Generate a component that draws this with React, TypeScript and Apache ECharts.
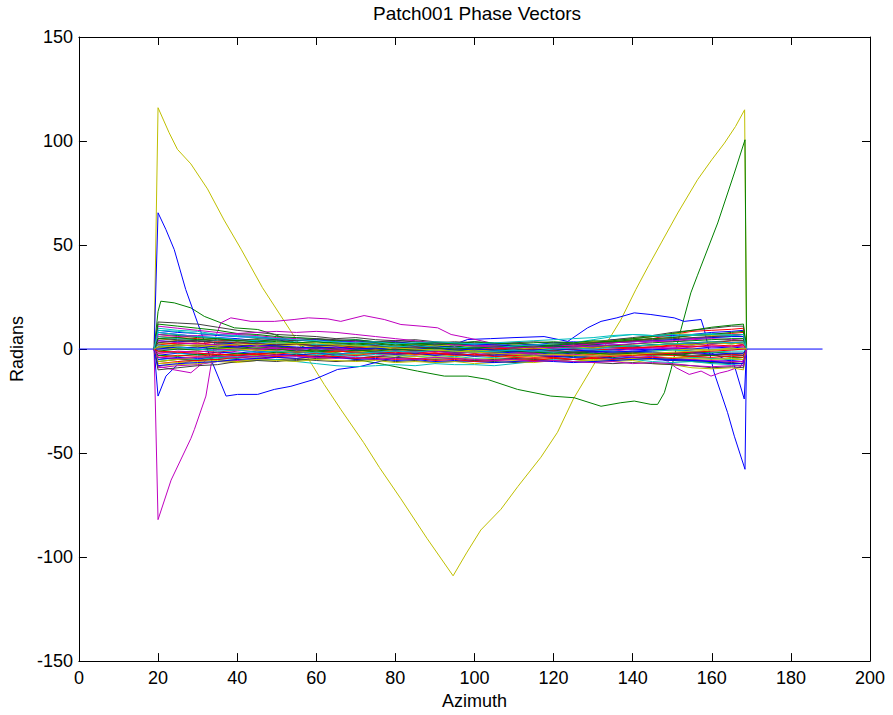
import React, { useEffect, useRef } from "react";
import * as echarts from "echarts";

const TITLE = "Patch001 Phase Vectors";
const X_NAME = "Azimuth";
const Y_NAME = "Radians";
const X_MIN = 0, X_MAX = 200, X_STEP = 20;
const Y_MIN = -150, Y_MAX = 150, Y_STEP = 50;

// MATLAB default colour order: b, g, r, c, m, y, k
const COLOR_ORDER = ["#0000FF", "#008000", "#FF0000", "#00BFBF", "#BF00BF", "#BFBF00", "#404040"];

// zero reference vector
const ZERO_X = [0, 188];
const ZERO_Y = [0, 0];

// every phase vector starts and ends at zero
const START_X = 19;
const END_X = 168.8;

// azimuth samples of the bulk of vectors
const BAND_X = [20, 25, 30, 35, 40, 45, 50, 55, 60, 65, 70, 75, 80, 85, 90, 95, 100, 105, 110, 115, 120, 125, 130, 135, 140, 145, 150, 155, 160, 165, 168];

const BAND_LINES: number[][] = [
  [8, 7, 6, 5.5, 5, 4, 4.5, 3, 3.5, 2.5, 3, 2, 2.5, 1.5, 2, 1, 2, 1.5, 2.5, 2, 3, 3.5, 3, 4.5, 5, 6, 6.5, 7, 8, 8.5, 9],
  [-6, -5, -5.5, -4, -4.5, -3, -3.5, -2.5, -3, -2, -2.5, -1.5, -2, -2.5, -3, -2, -3, -2.5, -3.5, -3, -4, -3.5, -4.5, -4, -5, -4.5, -5.5, -6, -6.5, -7, -7],
  [3, 2.5, 3, 2, 1.5, 2, 1, 0.5, 1, 0, -0.5, 0, -1, -0.5, -1.5, -1, -2, -1, -1.5, -2, -1, -1.5, -0.5, 0, 0.5, 1, 2, 2.5, 3, 4, 4],
  [10, 9, 8.5, 7, 6.5, 6, 5, 5.5, 4.5, 4, 4.5, 3.5, 3, 3.5, 2.5, 3, 2, 2.5, 1.5, 2, 1, 1.5, 2, 3, 3.5, 4, 4.5, 5, 5.5, 6, 6],
  [-9, -8, -7.5, -6, -5.5, -5, -4, -4.5, -3.5, -4, -3, -3.5, -2.5, -3, -2, -2.5, -3, -2, -3, -2.5, -3.5, -3, -4, -3, -3.5, -2.5, -3, -2, -3, -2.5, -3],
  [5, 4, 4.5, 3, 2.5, 3, 1.5, 2, 1, 1.5, 0.5, 1, 0, 0.5, -0.5, 0, -1, -0.5, -1.5, -1, -2, -1.5, -2.5, -2, -3, -3.5, -3, -4, -4.5, -5, -5],
  [13, 12.5, 12, 10.5, 9, 8, 7, 6.5, 6, 5, 5.5, 4.5, 4, 4.5, 3.5, 3, 3.5, 2.5, 3, 2, 2.5, 3, 3.5, 4.5, 5.5, 6.5, 8, 9, 10, 11, 11],
  [-3, -2, -2.5, -1.5, -2, -1, -1.5, -0.5, -1, 0, -0.5, -1, 0, -1, -0.5, -1.5, -1, -2, -1.5, -1, -2, -1.5, -1, -0.5, 0, -0.5, 0.5, 0, 1, 0.5, 1],
  [7, 6.5, 5.5, 5, 4, 4.5, 3.5, 3, 3.5, 2.5, 2, 2.5, 1.5, 2, 1, 1.5, 0.5, 1, 0, 0.5, -0.5, 0, 0.5, 1, 1.5, 2, 2.5, 2, 3, 2.5, 3],
  [-2, -1.5, -1, -1.5, -0.5, 0, -0.5, 0.5, 0, 1, 0.5, 1.5, 1, 0.5, 1, 0.5, 1, 0, 0.5, 1, 1.5, 2, 3, 3.5, 4, 5, 5.5, 6.5, 7, 7.5, 8],
  [-5, -4.5, -5, -4, -3.5, -4, -3, -3.5, -2.5, -3, -3.5, -2.5, -3, -3.5, -4, -3.5, -4.5, -4, -5, -4.5, -5.5, -5, -6, -5.5, -5, -6, -6.5, -6, -7, -7.5, -8],
  [2, 1.5, 2, 1, 0.5, 0, 0.5, -0.5, -1, -0.5, -1.5, -1, -2, -1.5, -2.5, -2, -1.5, -2.5, -2, -1.5, -1, -1.5, -0.5, -1, 0, 0.5, 0, 1, 1.5, 1, 2],
  [-8, -7.5, -7, -6, -6.5, -5.5, -5, -4.5, -5, -4, -4.5, -3.5, -4, -3.5, -4.5, -4, -5, -4.5, -5.5, -5, -4.5, -5, -5.5, -6, -5.5, -7, -7.5, -9, -9.5, -9, -10],
  [-10, -9, -8, -7.5, -6, -5.5, -5, -5.5, -4.5, -4, -4.5, -3.5, -4, -4.5, -5, -4.5, -5.5, -5, -4.5, -5, -5.5, -5, -4.5, -5, -4, -4.5, -5, -5.5, -6, -6.5, -6],
  [4, 3.5, 4, 3, 2.5, 3, 2, 2.5, 1.5, 2, 1, 1.5, 0.5, 1, 1.5, 0.5, 1, 1.5, 1, 2, 1.5, 2.5, 2, 3, 3.5, 4, 4.5, 5, 5.5, 6, 6],
  [1, 0.5, 1, 0, 0.5, -0.5, 0, -1, -0.5, -1, -1.5, -1, -0.5, -1.5, -1, -2, -1.5, -2, -2.5, -2, -1.5, -2, -2.5, -2, -1.5, -2, -2.5, -2, -1.5, -2, -2],
  [6, 5.5, 5, 4, 4.5, 3.5, 3, 2.5, 2, 2.5, 1.5, 1, 1.5, 0.5, 1, 0, -0.5, 0, 0.5, 0, 1, 1.5, 2.5, 3, 4, 5, 7, 8.5, 9, 9.5, 10],
  [-1, -2, -3, -4.5, -5, -5.5, -5, -6, -7, -8, -8.5, -8, -7.5, -8, -7, -7.5, -7.5, -8, -7, -6, -5, -4, -3.5, -3, -4, -4.5, -5, -4, -4.5, -5, -4],
  [11, 10, 9, 8, 7, 6.5, 5.5, 5, 4.5, 4, 3.5, 3, 3.5, 2.5, 2, 2.5, 1.5, 2, 1, 1.5, 2, 1.5, 2.5, 3, 3.5, 4, 3.5, 4.5, 5, 4.5, 5],
  [0, 0.5, 1, 1.5, 1, 2, 1.5, 2.5, 2, 3, 2.5, 3, 2, 2.5, 1.5, 2, 1, 1.5, 2, 1.5, 2.5, 3, 3.5, 4, 5, 6, 7.5, 7, 6.5, 7, 7],
  [-4, -5, -5.5, -5, -6, -5.5, -6, -5, -5.5, -6, -5.5, -5, -6, -5.5, -6.5, -6, -5.5, -6, -6.5, -6, -5.5, -6, -6.5, -7, -6.5, -7, -7.5, -8, -9, -8.5, -9],
  [9, 8, 7.5, 6.5, 6, 5.5, 5, 4, 4.5, 3.5, 4, 3, 3.5, 2.5, 3, 2, 2.5, 2, 1.5, 2, 1.5, 1, 1.5, 2, 1.5, 2, 2.5, 3, 2.5, 3, 3],
  [12, 11, 10, 9, 7.5, 7, 6, 5.5, 5, 4, 4.5, 3.5, 3, 2.5, 2, 2.5, 1.5, 1, 1.5, 1, 2, 2.5, 3, 4, 5, 6, 7.5, 9, 10.5, 11.5, 12],
  [-7, -6, -5.5, -5, -4, -4.5, -3.5, -3, -3.5, -2.5, -3, -2, -2.5, -1.5, -2, -2.5, -3, -3.5, -3, -4, -3.5, -3, -2.5, -3, -2, -2.5, -3, -3.5, -3, -2.5, -3],
  [6, 5, 4.5, 4, 3, 3.5, 2.5, 3, 2, 2.5, 1.5, 2, 1, 1.5, 1, 0.5, 1, 0.5, 1.5, 2, 2.5, 3, 4.5, 6, 7, 6.5, 6, 7, 7.5, 7, 7],
  [-2, -1, -1.5, -0.5, 0, -0.5, 0.5, 0, 1, 0.5, 0, -0.5, 0, -1, -0.5, 0, -1, -0.5, 0, -0.5, 0.5, 0, 0.5, 1, 0.5, 1, 0.5, 1.5, 1, 1.5, 1],
  [3, 2, 1.5, 0.5, 0, -0.5, -1, -1.5, -1, -2, -2.5, -2, -3, -2.5, -3.5, -3, -3.5, -3, -4, -3.5, -3, -2.5, -3, -2, -1.5, -1, -0.5, 0, -0.5, 0.5, 0],
  [1, 2, 1.5, 2.5, 2, 1, 1.5, 0.5, 1, 0, -0.5, 0, -1, -0.5, -1, -1.5, -1, -0.5, -1, 0, 0.5, 0, 1, 1.5, 1, 2, 2.5, 3, 3.5, 4, 4],
  [-5, -4, -4.5, -3.5, -3, -3.5, -2.5, -3, -2, -2.5, -1.5, -2, -2.5, -2, -3, -2.5, -3.5, -3, -2.5, -3, -3.5, -4, -3.5, -4.5, -4, -5, -5.5, -5, -6, -5.5, -6],
  [-1, 0, -0.5, 0.5, 1, 0.5, 1, 0, 0.5, -0.5, 0, 0.5, -0.5, 0, -1, -0.5, -1, -1.5, -1, -1.5, -2, -1.5, -2, -2.5, -2, -3, -2.5, -3.5, -3, -4, -4],
  [2, 3, 2.5, 3.5, 3, 2.5, 2, 2.5, 1.5, 2, 1, 1.5, 0.5, 1, 0, 0.5, -0.5, 0, 0.5, 0, -0.5, 0, 0.5, 1, 0.5, 1, 1.5, 1, 2, 1.5, 2],
  [8, 7, 6, 5.5, 4.5, 4, 3, 3.5, 2.5, 2, 1.5, 1, 1.5, 0.5, 0, 0.5, -0.5, -1, -0.5, -1, -1.5, -1, -0.5, -1, -1.5, -1, -0.5, -1, -1.5, -1, -1],
  [4, 3, 2.5, 2, 1, 1.5, 0.5, 0, 0.5, -0.5, 0, -1, -0.5, -1.5, -1, -2, -1.5, -2, -2.5, -2, -3, -2.5, -3.5, -3, -4, -3.5, -4.5, -5, -5.5, -6, -6],
  [-6, -5, -4, -3.5, -2.5, -3, -2, -1.5, -2, -1, -1.5, -0.5, -1, 0, -0.5, 0, -1, -0.5, 0, 0.5, 0, 1, 0.5, 1.5, 2, 1.5, 2.5, 2, 3, 2.5, 3],
  [5, 4.5, 4, 3, 3.5, 2.5, 2, 2.5, 1.5, 2, 1, 1.5, 0.5, 1, 0.5, 0, 0.5, -0.5, 0, -1, -0.5, -1.5, -1, -2, -1.5, -2.5, -2, -3, -2.5, -3, -3],
  [0, 1, 0.5, 1.5, 1, 2, 1.5, 1, 0.5, 1, 0, 0.5, -0.5, 0, 0.5, -0.5, 0, -0.5, -1, -0.5, 0, -0.5, -1, -1.5, -1, -1.5, -2, -1.5, -2.5, -2, -2],
  [-3, -3.5, -2.5, -3, -2, -2.5, -1.5, -2, -1, -1.5, -0.5, -1, 0, -0.5, 0.5, 0, 0.5, 1, 0.5, 1, 1.5, 1, 2, 1.5, 2.5, 3, 3.5, 4, 4.5, 5, 5],
  [-4, -3, -3.5, -2.5, -3, -2, -2.5, -1.5, -2, -1, -1.5, -2, -1.5, -2.5, -2, -3, -2.5, -3.5, -4, -4.5, -4, -5, -4.5, -5, -4.5, -4, -4.5, -3.5, -4, -3.5, -4],
  [2, 1, 0, -1, -0.5, -1.5, -1, -2, -1.5, -2.5, -2, -1.5, -1, -1.5, -0.5, -1, -1.5, -1, -0.5, -1, 0, 0.5, 0, 1, 1.5, 2, 2.5, 3, 3.5, 3, 3.5],
  [7, 6, 6.5, 7, 7.5, 8, 8.5, 8, 8.5, 8, 7, 6, 5, 4, 3, 2, 1.5, 1, 0.5, 1, 0.5, 1, 1.5, 2, 2.5, 3.5, 4, 5, 6, 6.5, 7],
  [-7, -6.5, -6, -5.5, -6, -5, -5.5, -6, -5, -5.5, -6, -5.5, -6.5, -6, -6.5, -6, -7, -6.5, -6, -6.5, -5.5, -6, -5, -5.5, -4.5, -5, -4, -4.5, -5, -4.5, -5],
  [3, 4, 3.5, 4.5, 4, 5, 4.5, 4, 5, 4.5, 4, 3.5, 4, 3.5, 3, 3.5, 3, 2.5, 3, 3.5, 3, 2.5, 3, 3.5, 4, 4.5, 5, 5.5, 6, 6.5, 7],
  [-8, -7, -6.5, -6, -5, -4.5, -4, -4.5, -3.5, -4, -5, -4.5, -5.5, -5, -6, -5.5, -6, -6.5, -6, -5.5, -6, -6.5, -6, -5.5, -5, -4.5, -5, -5.5, -6, -7, -7],
  [5, 5.5, 4.5, 5, 4, 3.5, 4, 3, 3.5, 3, 2.5, 3, 2, 2.5, 3, 2.5, 3.5, 3, 2.5, 3, 3.5, 3, 4, 3.5, 4.5, 5, 5.5, 6.5, 7, 8, 8.5],
  [-1, -1.5, -2, -2.5, -3, -2.5, -3.5, -3, -4, -3.5, -4.5, -4, -5, -4.5, -5.5, -5, -6, -5.5, -5, -5.5, -4.5, -5, -4, -3.5, -3, -2.5, -2, -1.5, -1, -0.5, 0],
  [9, 8.5, 7.5, 7, 6, 5.5, 5, 4.5, 4, 3.5, 3, 3.5, 2.5, 3, 3.5, 3, 2.5, 3, 3.5, 4, 4.5, 5, 5.5, 6.5, 7, 6.5, 7, 6.5, 7, 6.5, 7],
  [-4, -4.5, -4, -3.5, -4, -3.5, -3, -3.5, -4, -4.5, -4, -5, -4.5, -5, -4, -4.5, -5, -5.5, -5, -6, -5.5, -6, -6.5, -6, -7, -6.5, -7, -8, -8.5, -8, -8],
  [1, 1.5, 2, 1.5, 2.5, 2, 3, 2.5, 3, 2, 1.5, 1, 0.5, 0, -0.5, -1, -1.5, -2, -2.5, -3, -2.5, -3, -3.5, -3, -2.5, -2, -1.5, -1, -0.5, 0, 0.5],
];

// outlying vectors, read point by point
const YELLOW_X = [19, 20, 22.8, 24.9, 28.3, 32.5, 36.7, 41, 46.4, 53.6, 57.8, 62, 66.2, 72, 76, 81.4, 88, 94.6, 98, 101.6, 106.7, 111, 116.8, 121, 125, 129.4, 132.5, 137, 140.8, 144, 147.2, 151.4, 156.4, 160, 163.2, 166, 168.3, 168.8];
const YELLOW_Y = [0, 116, 104, 96, 89, 77, 62, 48, 29.5, 8.5, -4, -17, -29, -45, -57, -72, -91, -109, -98, -87, -77, -66, -52, -40, -24, -10, 0, 14, 28.6, 40, 51, 65.4, 81.4, 91, 99, 107, 115, 0];

const BLUE_X = [19, 20, 22, 24.1, 27, 30, 33.4, 37.2, 40.1, 45.2, 49.4, 53.6, 59.5, 65.4, 71.3, 76.4, 82, 88, 93, 98.3, 104, 110, 117.6, 123.6, 128.6, 132, 136, 140.4, 144.6, 150.5, 153, 157.3, 158.1, 160.6, 164, 165.7, 168.4, 168.8];
const BLUE_Y = [0, 65.5, 57.4, 47.8, 28.6, 12.6, -5, -22.6, -21.8, -21.8, -19.4, -17.9, -14.6, -9.8, -8.3, -5.8, -3, -1, 1, 4.6, 5, 5.5, 6, 3.7, 10.2, 13.3, 15, 17.4, 16.6, 15, 13.3, 14.2, 9.4, -11.4, -30.6, -41.9, -57.8, 0];

const MAGENTA_X = [19, 20, 23.3, 28.3, 29.2, 32.1, 34.6, 35.9, 38.4, 43.5, 49.4, 54.4, 58, 62.9, 66.2, 72.1, 77.2, 81.4, 86.5, 90.7, 94.1, 98.3, 104, 110, 116, 122, 128, 134, 140, 145, 148.8, 151, 154.3, 157.3, 159.8, 162, 164, 167.4, 168.8];
const MAGENTA_Y = [0, -82, -63, -43, -38.6, -22.6, 6.1, 12.6, 15, 13.3, 13.3, 14.2, 15, 14.5, 13.3, 16.1, 14.2, 11.8, 11, 10.2, 7, 5.4, 3, 1, 0, -1.5, -1, -2.5, -2, -3.5, -5.8, -9, -12.2, -10.6, -13, -11.5, -10.6, -8.3, 0];

const GREEN_X = [19, 20, 20.7, 24.1, 28.3, 31.7, 35.9, 39.3, 45.2, 49.4, 52.8, 58, 64, 70, 77.2, 85.6, 92.4, 98.3, 103.3, 110.9, 119.3, 125.2, 132, 137, 140.4, 144.6, 146.3, 148, 149.7, 152.2, 154.7, 156.4, 161.5, 165.7, 168.4, 168.8];
const GREEN_Y = [0, 18, 23, 22.2, 19.8, 15.7, 12.6, 10.2, 9.4, 7, 4.6, 0, -3, -5, -7.4, -10.6, -13, -13, -14.6, -19.4, -22.6, -23.4, -27.5, -25.8, -25, -26.6, -26.6, -21, -9.8, 9.4, 27, 35.5, 60.6, 84.6, 100.6, 0];

const BLUE2_X = [19, 20, 22, 25, 30, 35, 40, 50, 60, 70, 80, 90, 100, 110, 120, 130, 140, 150, 160, 165.5, 168.2, 168.8];
const BLUE2_Y = [0, -22.6, -13, -7.4, -5, -3, -2.5, -1, -1.5, 0, -1, -0.5, -2, -1, -2.5, -1.5, -1, 0, -2, -6.6, -24, 0];

const MAGENTA2_X = [19, 20, 24.1, 28.3, 33.4, 36, 40, 45, 50, 60, 70, 80, 90, 100, 110, 120, 130, 140, 150, 160, 165, 168, 168.8];
const MAGENTA2_Y = [0, -8.3, -10, -11.4, -3.4, -2, -1, 0, -0.5, 0.5, -0.5, 0, -1, -0.5, 0.5, 0, 1, 0.5, 1.5, 2.5, 3, 2, 0];

const FONT = "'Liberation Sans', Arial, Helvetica, sans-serif";

function zip(xs: number[], ys: number[]): number[][] {
  const n = Math.min(xs.length, ys.length);
  const out: number[][] = [];
  for (let i = 0; i < n; i++) out.push([xs[i], ys[i]]);
  return out;
}

function lineSeries(data: number[][], color: string) {
  return {
    type: "line",
    data,
    symbol: "none",
    showSymbol: false,
    silent: true,
    lineStyle: { width: 1, color },
    itemStyle: { color },
    emphasis: { disabled: true },
    xAxisIndex: 0,
    yAxisIndex: 0,
  };
}

export default function App() {
  const ref = useRef<HTMLDivElement>(null);

  useEffect(() => {
    if (!ref.current) return;
    const chart = echarts.init(ref.current, undefined, { renderer: "svg" });

    const bandSeries = BAND_LINES.map((ys, i) =>
      lineSeries(zip([START_X, ...BAND_X, END_X], [0, ...ys, 0]), COLOR_ORDER[i % COLOR_ORDER.length])
    );

    const series: any[] = [lineSeries(zip(ZERO_X, ZERO_Y), COLOR_ORDER[0])];
    series.push(lineSeries(zip(YELLOW_X, YELLOW_Y), COLOR_ORDER[5]));
    series.push(lineSeries(zip(GREEN_X, GREEN_Y), COLOR_ORDER[1]));
    series.push(lineSeries(zip(BLUE_X, BLUE_Y), COLOR_ORDER[0]));
    series.push(lineSeries(zip(MAGENTA_X, MAGENTA_Y), COLOR_ORDER[4]));
    series.push(lineSeries(zip(BLUE2_X, BLUE2_Y), COLOR_ORDER[0]));
    series.push(lineSeries(zip(MAGENTA2_X, MAGENTA2_Y), COLOR_ORDER[4]));
    series.push(...bandSeries);

    const axisCommon = {
      axisLine: { show: true, onZero: false, lineStyle: { color: "#000", width: 1 } },
      axisTick: { show: true, inside: true, length: 8, lineStyle: { color: "#000", width: 1 } },
      splitLine: { show: false },
    };

    chart.setOption({
      animation: false,
      backgroundColor: "#fff",
      textStyle: { fontFamily: FONT },
      grid: { left: 78, right: 23, top: 37, bottom: 52, containLabel: false },
      graphic: [
        {
          type: "text",
          x: 477,
          y: 13,
          silent: true,
          style: {
            text: TITLE,
            fontSize: 19,
            fontFamily: FONT,
            fill: "#000",
            textAlign: "center",
            textVerticalAlign: "middle",
          },
        },
      ],
      xAxis: [
        {
          type: "value",
          position: "bottom",
          min: X_MIN,
          max: X_MAX,
          interval: X_STEP,
          ...axisCommon,
          axisLabel: { color: "#000", fontSize: 18, margin: 8, fontFamily: FONT },
          name: X_NAME,
          nameLocation: "middle",
          nameGap: 30,
          nameTextStyle: { color: "#000", fontSize: 18, fontFamily: FONT },
        },
        {
          type: "value",
          position: "top",
          min: X_MIN,
          max: X_MAX,
          interval: X_STEP,
          ...axisCommon,
          axisLabel: { show: false },
        },
      ],
      yAxis: [
        {
          type: "value",
          position: "left",
          min: Y_MIN,
          max: Y_MAX,
          interval: Y_STEP,
          ...axisCommon,
          axisLabel: { color: "#000", fontSize: 18, margin: 6, fontFamily: FONT },
          name: Y_NAME,
          nameLocation: "middle",
          nameRotate: 90,
          nameGap: 50,
          nameTextStyle: { color: "#000", fontSize: 18, fontFamily: FONT },
        },
        {
          type: "value",
          position: "right",
          min: Y_MIN,
          max: Y_MAX,
          interval: Y_STEP,
          ...axisCommon,
          axisLabel: { show: false },
        },
      ],
      series,
    });

    return () => chart.dispose();
  }, []);

  return (
    <div
      ref={ref}
      style={{ position: "fixed", left: 0, top: 0, width: 893, height: 715, background: "#fff" }}
    />
  );
}
